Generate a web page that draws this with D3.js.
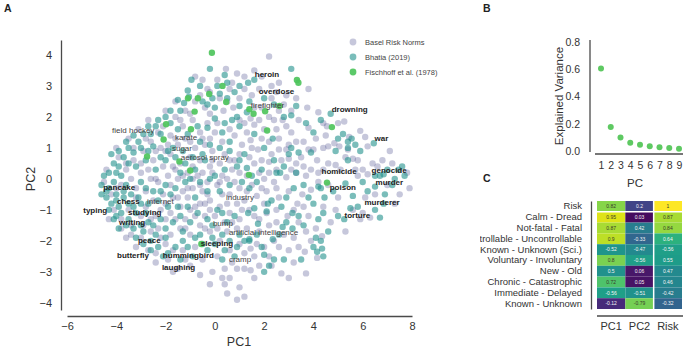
<!DOCTYPE html>
<html>
<head>
<meta charset="utf-8">
<script src="https://cdn.jsdelivr.net/npm/d3@7"></script>
<style>
  body { margin: 0; background: #fff; }
  svg { font-family: 'Liberation Sans', Arial, sans-serif; }
</style>
</head>
<body>
<svg id="chart" width="685" height="350"></svg>
<script>
// ---- data ----
const groups = ['Basel Risk Norms', 'Bhatia (2019)', 'Fischhoff et al. (1978)'];

// [PC1, PC2]
const baselPoints = [
  [2.2,3.95],[0.45,3.55],[0.9,3.4],[1.6,3.5],[-0.5,3.2],[0.1,3.2],[1.2,3.3],[2.6,3.1],[3.8,2.9],[3.75,2.3],
  [0.6,2.9],[-0.3,2.9],[-0.8,2.5],[-1.6,2.5],[0.35,2.2],[0.75,2.3],[1.0,2.6],[1.5,2.7],[2.3,2.6],[2.8,2.4],
  [3.4,1.9],[3.8,1.65],[4.2,2.15],[4.4,1.8],[4.55,1.7],[5.0,1.8],[5.25,1.85],[5.45,1.35],[5.9,1.55],[6.1,1.35],
  [6.2,1.05],[5.4,0.95],[5.6,0.65],[5.8,0.6],[5.05,1.05],[4.6,1.05],[4.85,1.15],[4.4,1.0],[4.15,0.6],[4.0,0.95],
  [3.8,0.95],[3.5,0.7],[1.0,1.9],[1.45,1.95],[1.6,1.75],[1.8,1.9],[2.75,1.9],[2.5,1.6],[2.2,1.2],[1.9,1.3],
  [1.45,1.25],[1.1,1.1],[1.0,0.8],[1.75,0.95],[2.3,0.8],[2.6,0.95],[2.9,0.95],[3.0,0.65],[3.3,0.5],[2.2,0.55],
  [1.9,0.6],[1.6,0.5],[1.3,0.1],[2.0,0.0],[2.5,-0.3],[2.9,0.05],[3.7,0.1],[3.55,-0.5],[3.9,-0.35],[4.4,0.3],
  [4.9,0.45],[5.8,0.1],[6.2,0.15],[6.4,0.5],[6.0,0.3],[7.8,0.2],[7.5,-0.5],[6.3,-1.25],[6.0,-1.1],[5.0,-0.6],
  [4.4,-0.9],[4.7,-1.4],[3.35,-0.8],[3.2,-1.0],[2.95,-1.2],[2.5,-1.0],[2.1,-0.4],[1.7,-0.55],[1.2,-0.7],[1.0,-0.3],
  [0.6,-0.5],[0.7,0.3],[0.4,0.8],[0.8,1.4],[0.3,1.2],[0.0,1.5],[-0.3,1.8],[-0.6,1.5],[-0.9,1.9],[-1.3,1.7],
  [-1.6,2.0],[-1.8,1.4],[-2.3,1.5],[-2.6,1.2],[-2.2,1.0],[-1.5,1.1],[-1.2,1.3],[-0.8,1.0],[-0.4,1.1],[-0.1,0.9],
  [0.2,0.5],[-0.2,0.4],[-0.6,0.6],[-1.0,0.7],[-1.4,0.5],[-1.8,0.8],[-2.1,0.4],[-2.5,0.6],[-2.9,0.9],[-3.3,0.6],
  [-3.6,0.3],[-3.0,0.2],[-2.6,0.0],[-2.3,-0.1],[-1.9,0.1],[-1.5,0.0],[-1.1,0.2],[-0.7,0.1],[-0.3,-0.1],[0.1,-0.2],
  [0.5,0.0],[-0.5,-0.4],[-0.9,-0.3],[-1.3,-0.4],[-1.7,-0.6],[-2.1,-0.5],[-2.5,-0.7],[-2.8,-0.4],[-3.2,-0.3],[-3.8,-0.2],
  [-4.2,-0.5],[-4.5,-0.1],[-3.5,-1.0],[-3.0,-1.2],[-2.6,-1.3],[-2.2,-1.0],[-1.8,-1.1],[-1.4,-0.9],[-1.0,-1.0],[-0.6,-0.8],
  [-0.2,-0.7],[0.2,-0.9],[0.6,-1.1],[1.0,-1.3],[1.4,-1.0],[1.8,-1.3],[2.2,-1.5],[2.5,-1.4],[2.8,-1.8],[3.2,-1.9],
  [3.0,-2.3],[3.4,-2.2],[3.65,-2.35],[4.15,-2.55],[4.35,-1.85],[3.7,-3.05],[2.7,-3.05],[2.3,-2.8],[1.8,-2.8],[1.45,-2.95],
  [1.2,-2.9],[1.45,-2.25],[1.0,-2.1],[0.6,-2.3],[0.2,-2.0],[-0.2,-1.7],[-0.6,-1.5],[-1.0,-1.8],[-1.4,-1.6],[-1.8,-1.8],
  [-2.2,-1.9],[-2.6,-1.7],[-3.0,-1.9],[-3.2,-2.2],[-2.4,-2.4],[-1.9,-2.6],[-1.5,-2.9],[-1.0,-2.8],[-0.5,-2.6],[0.1,-2.5],
  [0.4,-2.9],[0.7,-2.7],[-0.2,-3.4],[0.6,-3.2],[1.0,-3.5],[1.2,-3.8],[0.5,-3.7],[1.6,-2.5],[2.0,-2.2],[2.4,-2.0],
  [1.8,-1.7],[0.9,-1.6],[0.4,-1.4],[0.0,-1.2],[-0.4,-1.2],[-0.8,-2.2],[-1.3,-2.3],[-3.9,0.7],[-4.0,1.0],[-3.5,1.3],
  [-3.1,1.6],[-2.7,1.9],[-2.0,2.2],[-1.2,2.2],[-0.4,2.3],[0.2,2.6],[1.9,2.3],[2.2,2.0],[2.6,2.2],[3.1,1.5],
  [3.0,1.1],[2.6,1.3],[1.3,1.5],[1.6,2.3],[-4.4,0.3],[-4.1,-1.0],[-3.8,-1.3],[-3.4,-1.5],[-3.6,-1.9],[5.6,-1.0],
  [6.5,-0.5],[7.2,0.5],[7.0,-0.2],[4.1,-1.6],[3.8,-1.2],[4.2,-0.1],[-0.1,0.2],[0.3,-0.5],[-1.1,-0.6],[-1.6,0.3],
  [-2.0,-0.8],[-0.6,-0.2],[0.9,-0.8],[1.5,-0.2],[0.8,0.6],[-0.2,1.3],[-0.9,0.4],[-1.9,1.1],[-2.4,-1.2],[-2.8,-0.9],
  [-3.4,0.0],[-1.2,-1.3],[-0.2,-1.0],[0.5,-1.7],[1.3,-1.6],[2.1,-1.1],[2.6,-0.6],[3.0,-0.4],[3.3,0.2],[2.5,0.3],
  [-0.8,3.3],[0.7,3.1],[1.9,3.3],[2.3,3.0],[2.9,2.7],[3.3,2.6],[1.2,2.9],[0.5,2.5],[-0.2,2.1],[-1.0,2.1],
  [-1.4,1.9],[-2.1,1.7],[-2.8,1.3],[-3.3,1.0],[-3.0,0.5],[-2.7,0.3],[-2.4,0.9],[-1.7,0.4],[-1.3,0.1],[-0.9,0.0],
  [-0.5,0.2],[-0.1,0.6],[0.3,0.1],[0.6,0.6],[1.0,0.2],[1.4,0.7],[1.8,0.2],[2.2,0.2],[2.7,0.6],[3.1,0.3],
  [3.6,0.4],[3.9,0.3],[4.2,0.2],[4.6,0.5],[5.1,0.3],[5.3,0.7],[5.7,0.3],[6.6,0.4],[7.1,0.9],[6.8,0.6],
  [7.9,-0.3],[7.3,-0.8],[6.1,-0.6],[5.9,-1.3],[5.3,-1.7],[4.9,-1.0],[4.6,-0.2],[3.6,-0.9],[3.4,-1.4],[3.7,-1.7],
  [3.9,-2.0],[2.6,-2.2],[2.2,-2.5],[1.7,-2.1],[1.2,-2.4],[0.9,-2.9],[0.3,-3.2],[-0.1,-3.0],[-0.6,-3.1],[-1.2,-2.6],
  [-1.7,-2.3],[-2.0,-2.1],[-2.7,-2.3],[-3.4,-1.8],[-3.8,-1.6],[-4.3,-1.3],[-4.0,-0.3],[-3.6,0.5],[-3.2,-0.6],[-2.9,-1.5],
  [-2.3,-1.6],[-1.6,-1.3],[-1.2,-1.6],[-0.8,-1.2],[-0.4,-1.6],[0.1,-1.6],[0.7,-1.4],[1.1,-1.0],[1.6,-1.2],[2.0,-0.8],
  [2.4,-0.1],[1.9,-0.3],[1.3,-0.4],[0.8,-0.1],[0.2,-0.1],[-0.3,-0.5],[-0.8,-0.9],[-1.5,-0.6],[-2.0,-1.3],[-2.4,0.0],
  [-1.8,-0.2],[-1.1,-0.3],[-0.4,-0.8],[0.5,-0.8],[1.5,1.0],[2.0,1.6],[2.4,1.9],[2.9,1.7],[3.3,1.2],[3.6,1.2],
  [4.1,1.3],[4.5,1.4],[3.1,2.2],[1.2,1.8],[0.6,1.6],[0.1,1.8],[-0.5,1.3],[-1.0,1.2],[-1.6,1.3],[-2.0,0.9],
  [-0.2,2.8],[-0.6,2.7],[1.8,2.9],[2.5,2.8],[0.9,-3.9],[0.4,-3.4],[1.6,-3.2],[3.2,-2.7],[3.0,-3.2],[-1.7,-3.0],
  [-2.4,-2.7]
];

const bhatiaPoints = [
  [-0.2,3.55],[0.4,3.35],[-0.95,3.2],[1.35,3.1],[1.6,3.2],[3.1,3.55],[0.8,2.8],[0.1,3.0],[0.2,2.75],[-1.1,2.85],
  [-1.05,2.65],[-1.5,2.55],[-1.25,2.45],[-0.5,2.5],[-0.1,2.6],[0.0,2.3],[1.3,2.15],[1.0,2.35],[3.3,2.35],[3.1,2.05],
  [3.7,1.8],[4.7,2.1],[5.2,1.45],[5.4,1.2],[5.55,1.3],[5.7,1.1],[6.45,1.15],[5.4,1.0],[3.9,0.85],[3.4,0.85],
  [-2.0,2.0],[-1.8,2.2],[-2.4,1.7],[-2.2,1.45],[-1.5,1.6],[-1.1,1.45],[-0.7,1.7],[-0.3,1.65],[0.4,1.8],[0.7,1.9],
  [1.0,1.7],[-2.7,1.7],[-2.9,1.45],[-3.1,1.2],[-2.5,1.05],[-1.9,0.9],[-1.3,0.9],[-0.5,0.8],[0.2,1.0],[0.6,1.2],
  [1.2,0.8],[-3.5,1.0],[-3.3,0.85],[-3.7,0.7],[-3.9,0.4],[-4.1,0.5],[-4.3,0.2],[-4.5,0.1],[-4.6,-0.2],[-4.3,-0.3],
  [-4.1,-0.1],[-3.8,0.1],[-3.5,0.5],[-3.2,0.4],[-2.8,0.6],[-2.4,0.3],[-2.0,0.6],[-1.6,0.7],[-1.2,0.5],[-0.8,0.3],
  [-0.4,0.6],[0.0,0.1],[0.4,0.3],[0.9,0.4],[1.3,0.35],[1.1,-0.1],[-4.4,-0.6],[-4.2,-0.8],[-4.0,-0.5],[-3.9,-0.9],
  [-3.7,-0.6],[-3.6,-0.2],[-3.4,-0.5],[-3.3,-0.9],[-3.1,-0.6],[-3.0,-0.1],[-2.8,-0.3],[-2.7,-0.8],[-2.5,-0.4],[-2.3,-0.7],
  [-4.3,-1.0],[-4.1,-1.3],[-3.8,-1.1],[-3.5,-1.3],[-3.3,-1.6],[-3.0,-1.5],[-2.8,-1.1],[-2.5,-1.5],[-2.2,-1.3],[-2.0,-1.6],
  [-1.7,-1.4],[-2.9,-2.1],[-2.6,-2.0],[-2.3,-2.2],[-2.1,-2.5],[-1.6,-2.2],[-1.3,-2.0],[-1.0,-1.4],[-0.8,-1.9],[-0.5,-2.1],
  [-0.3,-2.3],[0.0,-2.1],[0.3,-1.8],[0.6,-2.0],[0.8,-2.5],[1.0,-1.8],[1.2,-2.0],[1.4,-2.0],[-2.0,-0.2],[-1.6,-0.3],
  [-1.2,-0.1],[-0.8,-0.6],[-0.3,-0.4],[0.2,-0.4],[0.6,-0.2],[0.3,-1.1],[-0.1,-1.5],[-1.4,-1.2],[-1.9,-0.9],[1.4,-0.3],
  [1.7,-0.1],[1.9,0.3],[2.5,0.2],[2.65,0.2],[2.8,0.4],[3.3,0.2],[2.3,-0.7],[2.15,-0.8],[2.1,-1.05],[1.6,-0.95],
  [1.35,-1.1],[1.75,-1.45],[2.75,-1.55],[3.15,-1.6],[3.15,-1.1],[2.35,-1.95],[2.4,-2.6],[2.0,-2.45],[2.0,-3.0],[1.4,-1.95],
  [4.3,-2.0],[4.35,-2.25],[4.15,-2.35],[4.2,-1.3],[4.4,-1.1],[4.45,-0.6],[4.8,-0.4],[4.2,-0.25],[4.3,-0.3],[5.3,-0.15],
  [5.6,-0.55],[5.5,-0.95],[5.8,-0.9],[5.25,-1.3],[6.5,-1.0],[6.7,-1.25],[6.85,-0.8],[6.5,-0.25],[6.5,0.1],[6.7,0.1],
  [6.85,0.15],[7.2,-0.2],[7.6,0.4],[7.7,0.1],[7.45,0.3],[5.4,0.6],[4.9,0.9],[-0.6,1.2],[0.0,1.95],[1.6,1.45],
  [2.35,1.3],[2.0,1.0],[3.0,0.8],
  [-0.6,3.0],[0.5,3.1],[1.0,3.0],[-0.3,2.4],[0.5,2.6],[-1.4,2.2],[-1.8,1.8],[-2.3,1.9],[-2.6,1.45],[-3.3,1.4],
  [-3.6,1.2],[-3.9,0.9],[-4.2,0.8],[-4.0,0.2],[-4.4,-0.4],[-4.6,-0.5],[-4.0,-0.7],[-3.7,-0.4],[-3.5,-0.8],[-3.2,-1.1],
  [-3.0,-0.8],[-3.6,-1.5],[-4.0,-1.2],[-3.9,-1.6],[-3.2,-1.9],[-2.9,-1.7],[-2.7,-1.4],[-2.4,-1.8],[-2.2,-0.4],[-1.8,-0.5],
  [-1.5,-0.9],[-1.1,-0.9],[-0.7,-1.1],[-0.3,-1.3],[0.1,-1.0],[0.5,-1.4],[0.8,-1.2],[0.9,-2.2],[0.4,-2.3],[-0.1,-1.9],
  [-0.6,-1.8],[-1.1,-2.2],[-1.4,-2.6],[-1.9,-2.4],[-2.6,-2.3],[-2.0,-1.9],[-1.3,-1.7],[-0.9,-2.5],[0.3,-2.6],[1.7,-1.8],
  [1.9,-2.2],[2.6,-1.8],[2.9,-1.4],[3.4,-1.2],[3.6,-1.5],[3.8,-0.6],[4.0,-0.8],[4.1,-1.9],[2.8,-2.6],[2.2,-2.8],
  [3.5,-2.6],[2.7,-0.9],[2.9,-0.6],[3.2,-0.3],[3.6,-0.2],[3.1,1.0],[2.4,0.6],[1.5,0.1],[1.0,0.6],[0.6,0.9],
  [-0.2,0.0],[-0.6,-0.1],[-1.0,0.0],[-1.4,0.2],[-1.7,1.0],[-2.2,0.7],[-2.7,0.9],[-3.0,1.0],[-0.9,0.7],[-0.2,1.1],
  [0.3,1.5],[0.9,2.0],[1.4,2.5],[2.0,2.6],[2.4,2.4],[2.8,2.0],[4.0,1.5],[4.3,1.9],[5.0,1.3],[5.9,0.9],
  [6.0,-0.1],[6.2,-0.4],[6.9,-0.5],[7.3,0.0],[7.0,0.3],[5.0,-1.2],[4.6,-1.7],[4.4,-2.5],[4.0,-2.2]
];

const fischhoffPoints = [
  [-0.12,4.07],[0.31,3.0],[-0.23,2.74],[-1.09,2.6],[-0.69,2.6],[0.46,2.48],[-0.82,2.17],[-1.98,1.76],
  [-0.97,1.6],[-2.08,1.27],[-2.75,0.72],[-1.44,0.56],[-1.0,0.27],[-0.55,-2.1],[3.33,3.19],[3.39,3.1],
  [1.4,2.25],[1.57,2.1],[2.04,2.18],[2.62,2.35],[2.12,1.56],[4.75,1.67],[1.38,0.13],[4.55,-0.12]
];

// annotated words: [word, PC1, PC2, bold]
const wordLabels = [
  ['heroin', 1.62, 3.39, true], ['overdose', 1.78, 2.84, true], ['firefighter', 1.46, 2.39, false],
  ['drowning', 4.74, 2.26, true], ['war', 6.48, 1.32, true], ['homicide', 4.33, 0.26, true],
  ['genocide', 6.36, 0.29, true], ['poison', 4.66, -0.26, true], ['murder', 6.52, -0.1, true],
  ['murderer', 6.07, -0.74, true], ['torture', 5.26, -1.16, true], ['field hockey', -4.17, 1.58, false],
  ['karate', -1.62, 1.35, false], ['sugar', -1.74, 1.0, false], ['aerosol spray', -1.38, 0.71, false],
  ['pancake', -4.53, -0.26, true], ['chess', -3.97, -0.71, true], ['internet', -2.75, -0.71, false],
  ['typing', -5.34, -1.0, true], ['studying', -3.52, -1.06, true], ['writing', -3.89, -1.39, true],
  ['industry', 0.45, -0.58, false], ['bump', -0.08, -1.42, false], ['artificial intelligence', 0.57, -1.71, false],
  ['peace', -3.12, -1.97, true], ['sleeping', -0.57, -2.06, true], ['butterfly', -3.97, -2.45, true],
  ['hummingbird', -2.11, -2.45, true], ['cramp', 0.57, -2.58, false], ['laughing', -2.15, -2.84, true]
];

const pcNumbers = [1, 2, 3, 4, 5, 6, 7, 8, 9];
const explainedVariance = [0.605, 0.176, 0.1, 0.06, 0.045, 0.035, 0.028, 0.022, 0.017];

const scaleNames = [
  'Risk', 'Calm - Dread', 'Not-fatal - Fatal', 'Controllable - Uncontrollable',
  'Known - Unknown (Sci.)', 'Voluntary - Involuntary', 'New - Old',
  'Chronic - Catastrophic', 'Immediate - Delayed', 'Known - Unknown'
];
const loadingColumns = ['PC1', 'PC2', 'Risk'];
const pc1Loadings = [0.82, 0.95, 0.87, 0.9, -0.52, 0.8, 0.5, 0.72, -0.56, -0.12];
const pc2Loadings = [0.2, 0.03, 0.42, -0.33, -0.47, -0.56, 0.06, 0.05, -0.51, -0.79];
const riskCorrelations = [1, 0.87, 0.84, 0.64, -0.56, 0.55, 0.47, 0.46, -0.42, -0.32];

// ---- drawing ----
const svg = d3.select('#chart');
const spine = '#4a4a4a';
const textColor = '#333';

const groupColors = d3.scaleOrdinal()
  .domain(groups)
  .range(['rgba(65,68,135,0.3)', 'rgba(33,145,140,0.6)', 'rgba(78,196,92,0.92)']);

const styleAxis = (g, size) => {
  g.select('.domain').attr('stroke', spine).attr('stroke-width', 1.3);
  g.selectAll('text').attr('fill', textColor).attr('font-size', size);
  return g;
};

const panelLetter = (x, y, letter) => {
  svg.append('text')
    .attr('x', x).attr('y', y)
    .attr('font-size', 10.5).attr('font-weight', 'bold').attr('fill', '#222')
    .text(letter);
};

// ---- panel A ----
const drawScatter = () => {
  const x = d3.scaleLinear().domain([-6, 8]).range([67, 412]);
  const y = d3.scaleLinear().domain([-4.23, 4.48]).range([310, 40]);

  svg.append('g')
    .attr('transform', 'translate(61,0)')
    .call(d3.axisLeft(y).tickValues(d3.range(-4, 5)).tickSize(0).tickSizeOuter(0).tickPadding(9))
    .call(g => styleAxis(g, 11));

  svg.append('g')
    .attr('transform', 'translate(0,316)')
    .call(d3.axisBottom(x).tickValues(d3.range(-6, 9, 2)).tickSize(0).tickSizeOuter(0).tickPadding(6))
    .call(g => styleAxis(g, 11));

  svg.append('text')
    .attr('x', 239).attr('y', 346)
    .attr('text-anchor', 'middle').attr('font-size', 12.5).attr('fill', textColor)
    .text('PC1');
  svg.append('text')
    .attr('transform', 'translate(35,179) rotate(-90)')
    .attr('text-anchor', 'middle').attr('font-size', 12.5).attr('fill', textColor)
    .text('PC2');

  const sets = [baselPoints, bhatiaPoints, fischhoffPoints];
  sets.forEach((pts, i) => {
    svg.append('g')
      .selectAll('circle')
      .data(pts)
      .join('circle')
      .attr('cx', d => x(d[0]))
      .attr('cy', d => y(d[1]))
      .attr('r', 3.2)
      .attr('fill', groupColors(groups[i]));
  });

  svg.append('g')
    .selectAll('text')
    .data(wordLabels)
    .join('text')
    .attr('x', d => x(d[1]))
    .attr('y', d => y(d[2]))
    .attr('dy', '0.35em')
    .attr('font-size', 8)
    .attr('font-weight', d => (d[3] ? 'bold' : 'normal'))
    .attr('fill', d => (d[3] ? '#222' : '#444'))
    .text(d => d[0]);

  // legend
  const legend = svg.append('g')
    .selectAll('g')
    .data(groups)
    .join('g')
    .attr('transform', (d, i) => 'translate(353,' + (42 + i * 15) + ')');
  legend.append('circle').attr('r', 3.4).attr('fill', d => groupColors(d));
  legend.append('text')
    .attr('x', 12).attr('dy', '0.35em')
    .attr('font-size', 7.5).attr('fill', '#444')
    .text(d => d);
};

// ---- panel B ----
const drawVariance = () => {
  const x = d3.scaleLinear().domain([1, 9]).range([601, 679]);
  const y = d3.scaleLinear().domain([0, 0.8]).range([151, 42]);

  svg.append('g')
    .attr('transform', 'translate(590,0)')
    .call(d3.axisLeft(y).tickValues([0, 0.2, 0.4, 0.6, 0.8]).tickFormat(d3.format('.1f'))
      .tickSize(0).tickSizeOuter(0).tickPadding(10))
    .call(g => styleAxis(g, 10.5))
    .call(g => g.select('.domain').attr('d', 'M0,40V152'));

  svg.append('g')
    .attr('transform', 'translate(0,154)')
    .call(d3.axisBottom(x).tickValues(pcNumbers).tickSize(0).tickSizeOuter(0).tickPadding(8))
    .call(g => styleAxis(g, 10.5))
    .call(g => g.select('.domain').attr('d', 'M595,0H683'));

  svg.append('text')
    .attr('transform', 'translate(563,96) rotate(-90)')
    .attr('text-anchor', 'middle').attr('font-size', 11.5).attr('fill', textColor)
    .text('Explained Variance');
  svg.append('text')
    .attr('x', 635).attr('y', 187)
    .attr('text-anchor', 'middle').attr('font-size', 11.5).attr('fill', textColor)
    .text('PC');

  svg.append('g')
    .selectAll('circle')
    .data(explainedVariance)
    .join('circle')
    .attr('cx', (d, i) => x(pcNumbers[i]))
    .attr('cy', d => y(d))
    .attr('r', 3)
    .attr('fill', '#5ec962');
};

// ---- panel C ----
const drawLoadings = () => {
  const cells = [];
  scaleNames.forEach((name, r) => {
    [pc1Loadings, pc2Loadings, riskCorrelations].forEach((vals, c) => {
      cells.push({ row: name, col: loadingColumns[c], value: vals[r] });
    });
  });

  const x = d3.scaleBand().domain(loadingColumns).range([597, 682]);
  const y = d3.scaleBand().domain(scaleNames).range([201, 309]);
  const color = d3.scaleSequential(d3.interpolateViridis).domain([0, 1]);

  svg.append('g')
    .selectAll('rect')
    .data(cells)
    .join('rect')
    .attr('x', d => x(d.col))
    .attr('y', d => y(d.row))
    .attr('width', x.bandwidth())
    .attr('height', y.bandwidth())
    .attr('fill', d => color(Math.abs(d.value)));

  svg.append('g')
    .selectAll('text')
    .data(cells)
    .join('text')
    .attr('x', d => x(d.col) + x.bandwidth() / 2)
    .attr('y', d => y(d.row) + y.bandwidth() / 2)
    .attr('dy', '0.35em')
    .attr('text-anchor', 'middle')
    .attr('font-size', 5)
    .attr('fill', d => (Math.abs(d.value) > 0.7 ? '#3a3a2a' : '#f4f4f4'))
    .text(d => d.value);

  // separators
  svg.append('line')
    .attr('x1', x('Risk')).attr('x2', x('Risk'))
    .attr('y1', 201).attr('y2', 309)
    .attr('stroke', '#fff').attr('stroke-width', 1.5);
  svg.append('line')
    .attr('x1', 597).attr('x2', 682)
    .attr('y1', y(scaleNames[1])).attr('y2', y(scaleNames[1]))
    .attr('stroke', '#fff').attr('stroke-width', 1.5);

  // row labels are cut at the panel edge, as in the source figure
  svg.append('clipPath').attr('id', 'panel-c-clip')
    .append('rect').attr('x', 480).attr('y', 170).attr('width', 205).attr('height', 180);

  svg.append('g')
    .attr('clip-path', 'url(#panel-c-clip)')
    .append('g')
    .attr('transform', 'translate(591,0)')
    .call(d3.axisLeft(y).tickSize(0).tickSizeOuter(0).tickPadding(9))
    .call(g => styleAxis(g, 9.5));

  svg.append('g')
    .attr('transform', 'translate(0,316)')
    .call(d3.axisBottom(x).tickSize(0).tickSizeOuter(0).tickPadding(6))
    .call(g => styleAxis(g, 11))
    .call(g => g.select('.domain').attr('d', 'M597,0H683'));
};

panelLetter(4, 12, 'A');
panelLetter(483, 12, 'B');
panelLetter(483, 182, 'C');
drawScatter();
drawVariance();
drawLoadings();
</script>
</body>
</html>
